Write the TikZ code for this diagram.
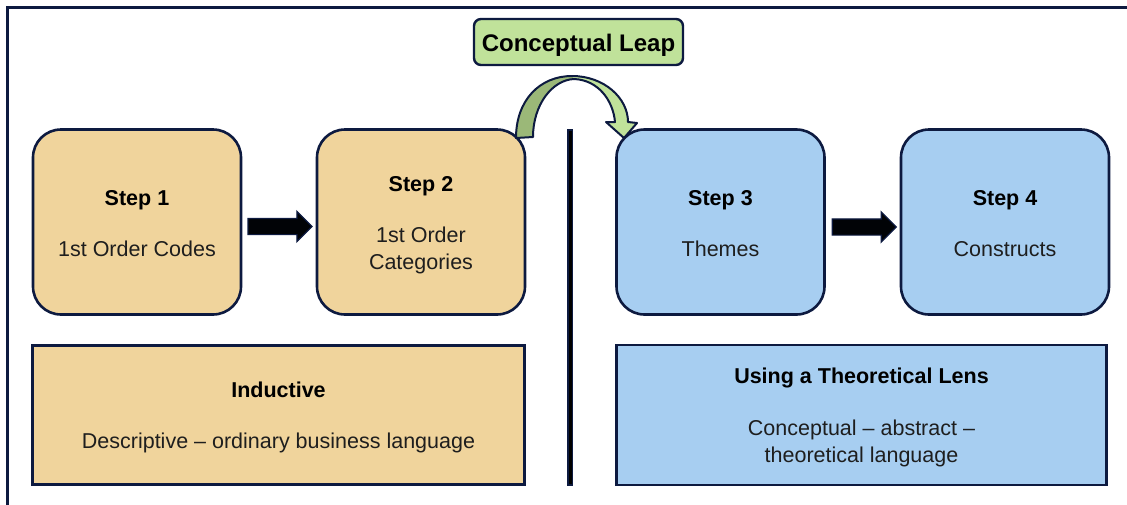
\documentclass[tikz,border=0pt]{standalone}
\usepackage{fontspec}
\setmainfont{Liberation Sans}
\usetikzlibrary{shapes.arrows,calc}
\definecolor{navy}{HTML}{0D1A40}
\definecolor{tan}{HTML}{F0D49C}
\definecolor{sky}{HTML}{A7CEF1}
\definecolor{leaf}{HTML}{C0E29A}
\definecolor{darkleaf}{HTML}{9BB878}
\definecolor{ink}{HTML}{1E1E1E}
\tikzset{
  stepbox/.style={draw=navy, line width=2.6pt, rounded corners=28pt, minimum width=208pt, minimum height=185pt, inner sep=0pt, outer sep=0pt, align=center, text=ink, text height=70pt, font=\fontsize{21.5}{27}\selectfont},
  notebox/.style={draw=navy, line width=2.8pt, minimum height=139pt, inner sep=0pt, outer sep=0pt, align=center, text=ink, font=\fontsize{21.5}{27}\selectfont},
  blockarrow/.style={shape=single arrow, draw=navy, fill=black!90!navy, line width=1.2pt, minimum height=64pt, minimum width=29pt, inner xsep=0pt, inner ysep=7.5pt, single arrow head extend=7pt, single arrow tip angle=90, outer sep=0pt},
  leapbox/.style={draw=navy, fill=leaf, line width=2.4pt, rounded corners=7pt, minimum width=209pt, minimum height=46pt, inner sep=0pt, text height=23pt, font=\fontsize{24}{28}\selectfont\bfseries, text=black}
}
\newcommand{\ttl}[1]{\textcolor{black}{\textbf{#1}}}
\begin{document}
\begin{tikzpicture}[x=1pt,y=-1pt]
\useasboundingbox (0,0) rectangle (1127,504);
% frame
\draw[navy, line width=3pt] (1135,7.5) -- (7.5,7.5) -- (7.5,512);
% step boxes
\node[stepbox, fill=tan] (s1) at (137,222) {\ttl{Step 1}\\[24pt]1st Order Codes};
\node[stepbox, fill=tan, text height=99.8pt] (s2) at (421,222) {\ttl{Step 2}\\[24pt]1st Order\\Categories};
\node[stepbox, fill=sky] (s3) at (720.5,222) {\ttl{Step 3}\\[24pt]Themes};
\node[stepbox, fill=sky] (s4) at (1005,222) {\ttl{Step 4}\\[24pt]Constructs};
% bottom boxes
\node[notebox, fill=tan, minimum width=492pt, text height=71pt] (ind) at (278.5,415) {\ttl{Inductive}\\[24pt]Descriptive -- ordinary business language};
\node[notebox, fill=sky, minimum width=490pt, minimum height=140pt, text height=99pt] (lens) at (861.5,415) {\ttl{Using a Theoretical Lens}\\[25pt]Conceptual -- abstract --\\theoretical language};
% block arrows
\node[blockarrow] (a12) at ($(s1.east)!0.5!(s2.west)+(-3,4.5)$) {};
\node[blockarrow] (a34) at ($(s3.east)!0.5!(s4.west)+(-2.5,5)$) {};
% divider
\draw[navy, line width=6.5pt] (570,129) -- (570,486);
\draw[black, line width=3pt] (570,131) -- (570,484);
% conceptual leap
\node[leapbox] (leap) at (578.5,42) {Conceptual Leap};
% curved arrow
\fill[darkleaf] (516,138) .. controls (516,100) and (540,76) .. (572,76)
  -- (574,79) .. controls (552,80) and (533,105) .. (533,137) -- cycle;
\fill[leaf] (572,76) .. controls (604,76) and (628,98) .. (628,122)
  -- (637,123) -- (624,138) -- (606,122) -- (615,122)
  .. controls (613,100) and (598,80) .. (574,79) -- cycle;
\draw[navy, line width=2pt, line join=round] (516,138) .. controls (516,100) and (540,76) .. (572,76)
  .. controls (604,76) and (628,98) .. (628,122)
  -- (637,123) -- (624,138) -- (606,122) -- (615,122)
  .. controls (613,100) and (598,80) .. (574,79)
  .. controls (552,80) and (533,105) .. (533,137) -- cycle;
\end{tikzpicture}
\end{document}
